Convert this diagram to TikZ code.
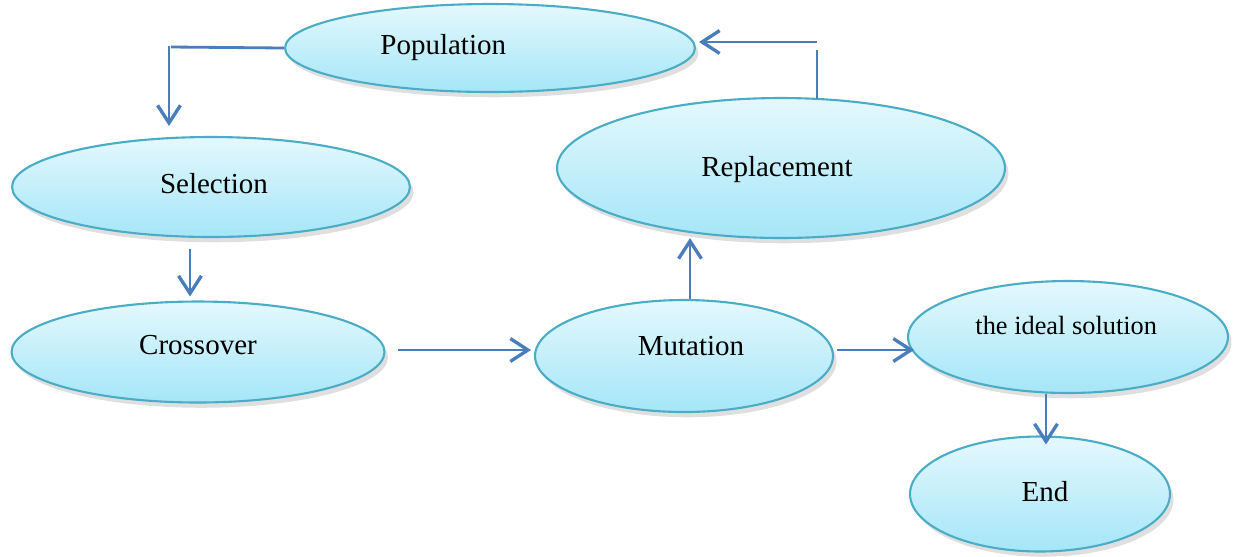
\documentclass[tikz,border=0pt]{standalone}
\usepackage{fontspec}
\setmainfont{Liberation Serif}
\usetikzlibrary{arrows.meta}
\usetikzlibrary{calc}
\usetikzlibrary{shapes.geometric}
\usetikzlibrary{shadows}

\definecolor{rim}{HTML}{4BACC6}
\definecolor{skytop}{HTML}{E4F8FD}
\definecolor{skybot}{HTML}{A5E6F8}
\definecolor{link}{HTML}{4A7EBB}

\begin{document}
\begin{tikzpicture}[x=0.02cm,y=-0.02cm,font=\fontsize{16.5}{20}\selectfont,
		stage/.style={ellipse,draw=rim,line width=1.2pt,top color=skytop,bottom color=skybot,
			drop shadow={opacity=0.25,shadow xshift=2pt,shadow yshift=-3pt}},
		arr/.style={draw=link,line width=1.6pt,-{Straight Barb[length=10pt,width=13pt,line width=1.9pt]}},
		bar/.style={draw=link,line width=1.6pt}]
	\useasboundingbox (0,0) rectangle (1234,556);
	\foreach \name/\x/\y/\w/\h/\dx/\dy/\txt in {pop/490/48/8.2/1.76/-26.6/0.5/Population,
		sel/211/187/7.96/2.0/1.7/1.7/Selection,
		rep/781/168/8.96/2.8/-2.3/-1.1/Replacement,
		cro/198/352/7.46/2.02/0/4/Crossover,
		mut/684/356/5.96/2.24/4/5.7/Mutation,
		sol/1068/337/6.4/2.24/-1/6.8/{\fontsize{15}{18}\selectfont the ideal solution},
		fin/1040/494/5.2/2.3/2.8/1.1/End} {
		\node[stage,minimum width=\w cm,minimum height=\h cm,inner sep=0pt,
			label={[xshift=\dx pt,yshift=\dy pt]center:\txt}] (\name) at (\x,\y) {};
	}
	% connectors
	\coordinate (popleft) at (171,47);
	\draw[bar] (pop.west) -- (popleft);
	\draw[arr] ($(popleft)+(-2,-1)$) -- ($(sel.north)+(-42,-10)$);
	\draw[arr] ($(sel.south)+(-21,11)$) -- ($(cro.north)+(-8,-4)$);
	\draw[arr] ($(cro.east)+(12,-2)$) -- ($(mut.west)+(-3,-6)$);
	\draw[arr] ($(mut.north)+(6,0)$) -- ($(rep.south)+(-91,-1)$);
	\draw[arr] ($(mut.east)+(3,-6)$) -- ($(sol.west)+(7,13)$);
	\draw[arr] ($(sol.south)+(-22,0)$) -- ($(fin.north)+(6,9)$);
	\coordinate (repup) at (817,50);
	\draw[bar] ($(rep.north)+(36,2)$) -- (repup);
	\draw[arr] ($(repup)+(0,-8)$) -- ($(pop.east)+(3,-6)$);
\end{tikzpicture}
\end{document}
